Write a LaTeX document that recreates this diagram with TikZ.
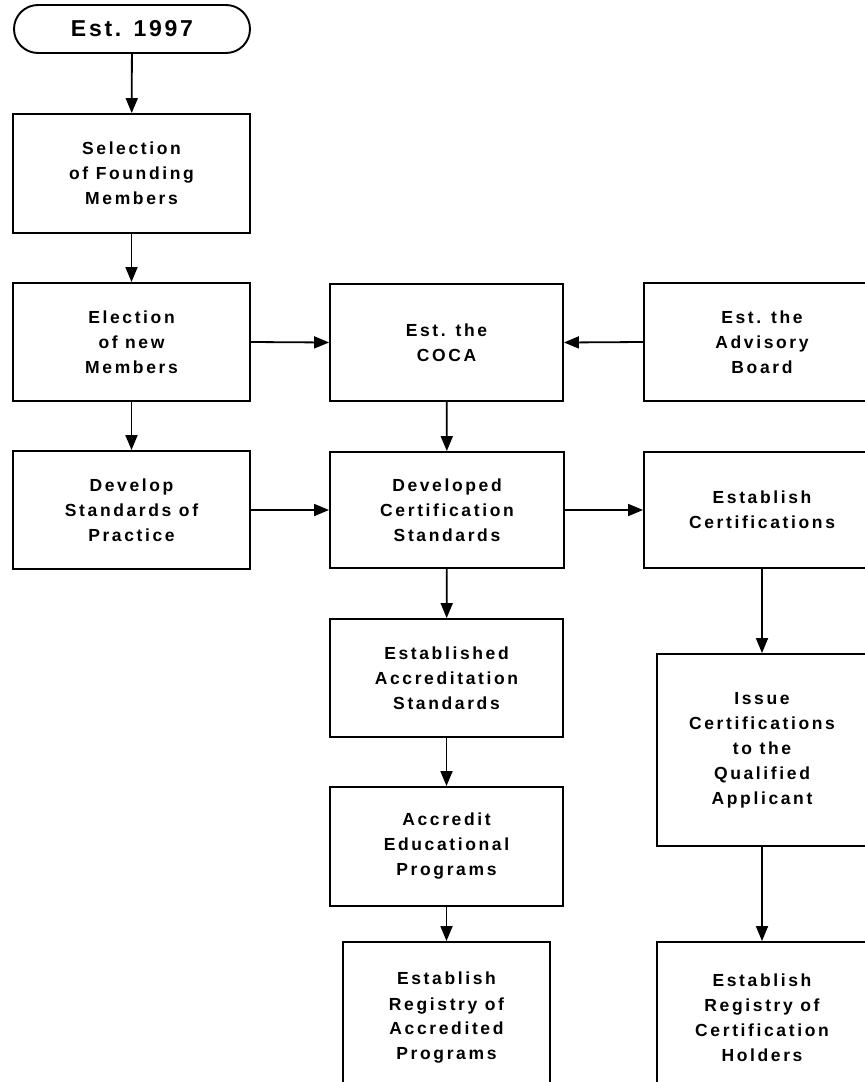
\documentclass[tikz,border=0pt]{standalone}
\usepackage{fontspec}
\newfontfamily\boxfont[LetterSpace=15]{Liberation Sans}
\newfontfamily\termfont[LetterSpace=12]{Liberation Sans}
\usetikzlibrary{arrows.meta}
\begin{document}
\begin{tikzpicture}[x=1pt,y=-1pt,
  box/.style={draw=black,line width=1.9pt,rectangle,inner sep=0pt,align=center,
    font=\boxfont\bfseries\fontsize{17.5pt}{25pt}\selectfont},
  term/.style={draw=black,line width=1.9pt,rectangle,rounded corners=24pt,inner sep=0pt,
    align=center,font=\termfont\bfseries\fontsize{23pt}{27pt}\selectfont},
  conn/.style={draw=black,line width=1.8pt,-{Triangle[length=15pt,width=12pt]}}]
\path[use as bounding box] (0,0) rectangle (865,1082);
\clip (0,0) rectangle (865,1082);
\fill[white] (0,0) rectangle (865,1082);

\node[term,minimum width=236pt,minimum height=48pt] (term) at (132,29) {Est. 1997};
\node[box,minimum width=237pt,minimum height=119pt] (b1) at (131.5,173.5) {Selection\\of Founding\\Members};
\node[box,minimum width=237pt,minimum height=118pt] (b2) at (131.5,342) {Election\\of new\\Members};
\node[box,minimum width=237pt,minimum height=118pt] (b3) at (131.5,510) {Develop\\Standards of\\Practice};
\node[box,minimum width=233pt,minimum height=117pt] (coca) at (446.5,342.5) {Est. the\\COCA};
\node[box,minimum width=236pt,minimum height=118pt] (adv) at (762,342) {Est. the\\Advisory\\Board};
\node[box,minimum width=234pt,minimum height=116pt] (dev) at (447,510) {Developed\\Certification\\Standards};
\node[box,minimum width=236pt,minimum height=116pt] (estc) at (762,510) {Establish\\Certifications};
\node[box,minimum width=233pt,minimum height=118pt] (esta) at (446.5,678) {Established\\Accreditation\\Standards};
\node[box,minimum width=233pt,minimum height=119pt] (accr) at (446.5,846.5) {Accredit\\Educational\\Programs};
\node[box,minimum width=210pt,minimum height=192pt] (issue) at (762,750) {Issue\\Certifications\\to the\\Qualified\\Applicant};
\node[box,minimum width=207pt,minimum height=152pt] (rega) at (446.5,1018) {Establish\\Registry of\\Accredited\\Programs};
\node[box,minimum width=210pt,minimum height=152pt] (regc) at (762,1018) {Establish\\Registry of\\Certification\\Holders};

\draw[conn] (term) -- (b1);
\draw[conn] (b1) -- (b2);
\draw[conn] (b2) -- (b3);
\draw[conn] (b2.east) -- (coca.west);
\draw[conn] (adv.west) -- (coca.east);
\draw[conn] (coca) -- (dev);
\draw[conn] (b3.east) -- (dev.west);
\draw[conn] (dev.east) -- (estc.west);
\draw[conn] (dev) -- (esta);
\draw[conn] (esta) -- (accr);
\draw[conn] (accr) -- (rega);
\draw[conn] (estc) -- (issue);
\draw[conn] (issue) -- (regc);
\end{tikzpicture}
\end{document}
